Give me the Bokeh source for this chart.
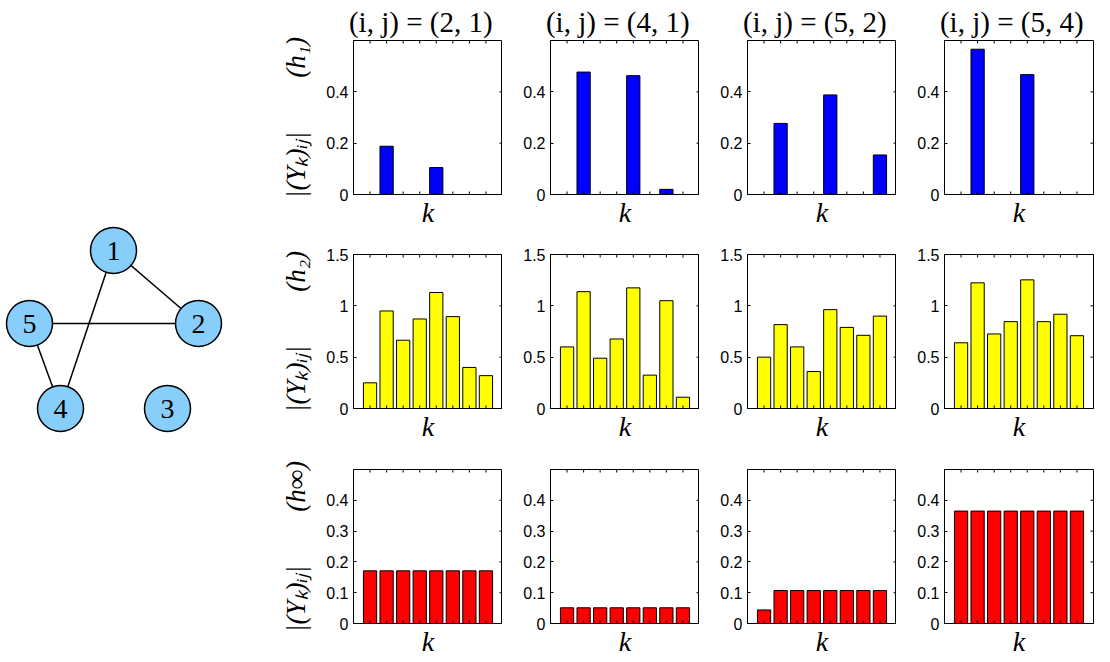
from bokeh.plotting import figure
from bokeh.layouts import row, column
from bokeh.models import Range1d, FixedTicker, CustomJSTickFormatter
from bokeh.core.properties import value
from bokeh.embed import file_html
from bokeh.resources import INLINE

# ---- graph drawn on the left ----
node_labels = ["1", "2", "3", "4", "5"]
node_x = [113, 198, 167, 60, 29]
node_y = [250, 323, 408, 408, 323]
edges = [(1, 2), (1, 4), (5, 2), (5, 4)]

# ---- spectra |(Y_k)_ij| for each filter and node pair ----
pairs = ["(2, 1)", "(4, 1)", "(5, 2)", "(5, 4)"]
k = [1, 2, 3, 4, 5, 6, 7, 8]

h1_21 = [0, 0.188, 0, 0, 0.105, 0, 0, 0]
h1_41 = [0, 0.477, 0, 0, 0.463, 0, 0.020, 0]
h1_52 = [0, 0.277, 0, 0, 0.388, 0, 0, 0.154]
h1_54 = [0, 0.566, 0, 0, 0.467, 0, 0, 0]

h2_21 = [0.25, 0.95, 0.665, 0.872, 1.13, 0.895, 0.40, 0.32]
h2_41 = [0.60, 1.138, 0.49, 0.677, 1.175, 0.325, 1.05, 0.11]
h2_52 = [0.50, 0.817, 0.60, 0.36, 0.963, 0.79, 0.713, 0.90]
h2_54 = [0.64, 1.224, 0.726, 0.846, 1.253, 0.846, 0.918, 0.709]

hinf_21 = [0.171] * 8
hinf_41 = [0.051] * 8
hinf_52 = [0.044, 0.107, 0.107, 0.107, 0.107, 0.107, 0.107, 0.107]
hinf_54 = [0.365] * 8

rows_data = [
    [h1_21, h1_41, h1_52, h1_54],
    [h2_21, h2_41, h2_52, h2_54],
    [hinf_21, hinf_41, hinf_52, hinf_54],
]
row_colors = ["#0000FF", "#FFFF00", "#FF0000"]
row_ymax = [0.6, 1.5, 0.5]
row_yticks = [[0, 0.2, 0.4], [0, 0.5, 1, 1.5], [0, 0.1, 0.2, 0.3, 0.4]]
row_filters = ["(h\u2081)", "(h\u2082)", "(h\u221e)"]

SERIF = "Liberation Serif"
SANS = "Liberation Sans"
FW, FH = 149, 154
TICK = 3
GAP = "\u2003\u2003"


def graph_figure():
    p = figure(width=250, height=662, x_range=Range1d(0, 250), y_range=Range1d(662, 0),
               output_backend="svg", toolbar_location=None, min_border=0)
    p.axis.visible = False
    p.grid.visible = False
    p.outline_line_color = None
    idx = {lab: i for i, lab in enumerate(node_labels)}
    x0 = [node_x[idx[str(a)]] for a, b in edges]
    y0 = [node_y[idx[str(a)]] for a, b in edges]
    x1 = [node_x[idx[str(b)]] for a, b in edges]
    y1 = [node_y[idx[str(b)]] for a, b in edges]
    p.segment(x0=x0, y0=y0, x1=x1, y1=y1, line_color="black", line_width=1.5)
    p.scatter(x=node_x, y=node_y, size=46, fill_color="#87CEFA", line_color="black",
              line_width=1.5)
    p.text(x=node_x, y=node_y, text=node_labels, text_font=value(SERIF),
           text_font_size="28px", text_align="center", text_baseline="middle",
           text_color="black")
    return p


def panel(vals, r, c):
    ymax = row_ymax[r]
    yticks = row_yticks[r]
    p = figure(frame_width=FW, frame_height=FH,
               x_range=Range1d(0, 9), y_range=Range1d(0, ymax),
               min_border_left=103 if c == 0 else 48,
               min_border_right=17 if c == 3 else 0,
               min_border_top=[40, 22, 23][r],
               min_border_bottom=[38, 38, 39][r],
               output_backend="svg", toolbar_location=None)
    p.grid.visible = False
    p.outline_line_color = "black"
    p.outline_line_width = 1
    p.background_fill_color = "white"
    p.border_fill_color = "white"

    if r == 0:
        p.title.text = "(i, j)  =  " + pairs[c]
        p.title.align = "center"
        p.title.text_font = SERIF
        p.title.text_font_style = "normal"
        p.title.text_font_size = "29px"
        p.title.text_color = "black"
        p.title.text_line_height = 1.0
        p.title.standoff = 5

    p.vbar(x=k, top=vals, width=0.8, fill_color=row_colors[r],
           line_color="black", line_width=1)

    xa = p.xaxis[0]
    xa.ticker = FixedTicker(ticks=[])
    xa.major_label_standoff = 0
    xa.major_tick_in = 0
    xa.major_tick_out = 0
    xa.minor_tick_line_color = None
    xa.axis_line_color = "black"
    xa.axis_label = "k"
    xa.axis_label_text_font = SERIF
    xa.axis_label_text_font_style = "italic"
    xa.axis_label_text_font_size = "28px"
    xa.axis_label_text_color = "black"
    xa.axis_label_standoff = 2

    ya = p.yaxis[0]
    ya.ticker = FixedTicker(ticks=yticks)
    ya.formatter = CustomJSTickFormatter(code="return String(tick)")
    ya.major_label_text_font = SANS
    ya.major_label_text_font_size = "16px"
    ya.major_label_text_color = "black"
    ya.major_label_standoff = 5
    ya.major_tick_in = TICK
    ya.major_tick_out = 0
    ya.minor_tick_line_color = None
    ya.axis_line_color = "black"
    if c == 0:
        ya.axis_label = "|(Y\u2096)\u1d62\u2c7c|" + GAP + row_filters[r]
        ya.axis_label_text_font = SERIF
        ya.axis_label_text_font_style = "italic"
        ya.axis_label_text_font_size = "27px"
        ya.axis_label_text_color = "black"
        ya.axis_label_standoff = 12

    # inward k ticks on the bottom and top edges, value ticks on the right edge
    dy = ymax * TICK / FH
    dx = 9 * TICK / FW
    n = len(k)
    p.segment(x0=k, y0=[0] * n, x1=k, y1=[dy] * n, line_color="black", line_width=1)
    p.segment(x0=k, y0=[ymax] * n, x1=k, y1=[ymax - dy] * n,
              line_color="black", line_width=1)
    p.segment(x0=[9] * len(yticks), y0=yticks, x1=[9 - dx] * len(yticks), y1=yticks,
              line_color="black", line_width=1)
    return p


grid_rows = []
for r in range(3):
    grid_rows.append(row(*[panel(rows_data[r][c], r, c) for c in range(4)]))

layout = row(graph_figure(), column(*grid_rows))

open("out.html", "w").write(file_html(layout, INLINE))
